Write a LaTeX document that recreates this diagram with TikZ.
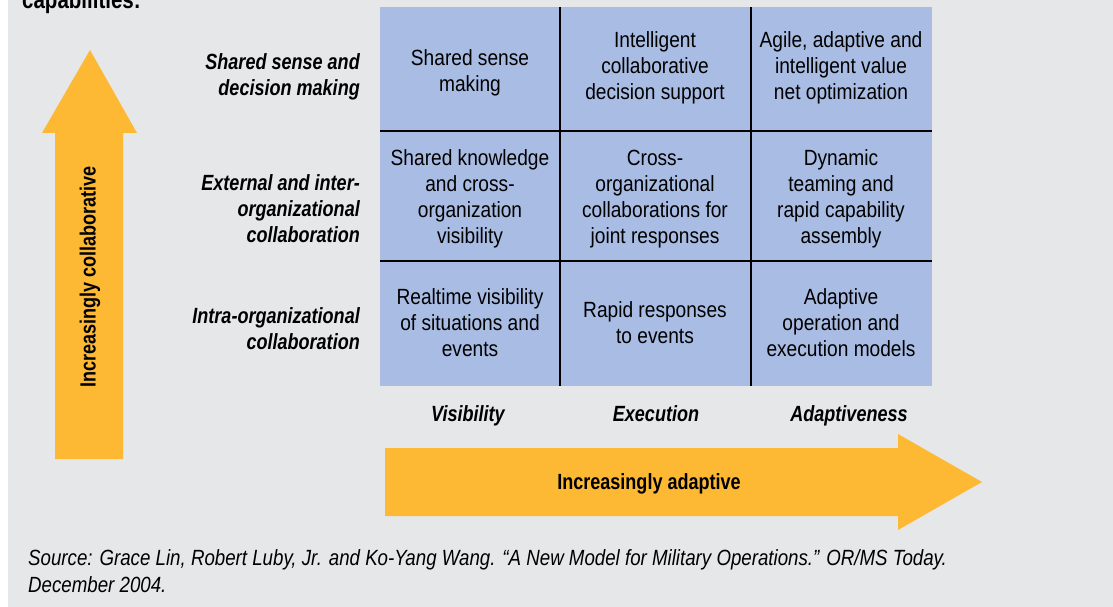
\documentclass[tikz,border=0pt]{standalone}
\usepackage{fontspec}
\setmainfont{Liberation Sans}[FakeStretch=0.82]
\newfontfamily\cellfont{Liberation Sans}[FakeStretch=0.87]
\newfontfamily\notefont{Liberation Sans}[FakeStretch=0.85]
\usetikzlibrary{positioning}
\definecolor{pagegray}{HTML}{E6E7E9}
\definecolor{cellblue}{HTML}{A9BCE3}
\definecolor{arrowyellow}{HTML}{FDB933}
\tikzset{
	celltext/.style = {align=center, inner sep=0pt, font=\fontsize{22}{26}\selectfont\cellfont},
	rowlabel/.style = {align=right, anchor=east, inner sep=0pt, font=\fontsize{22}{26}\selectfont\bfseries\itshape},
	collabel/.style = {anchor=base, inner sep=0pt, font=\fontsize{22}{26}\selectfont\bfseries\itshape},
	arrowtext/.style = {inner sep=0pt, font=\fontsize{22}{26}\selectfont\bfseries},
	gridline/.style = {draw=black, line width=1.3pt},
	bigarrow/.style = {fill=arrowyellow}
}
\begin{document}
\begin{tikzpicture}[x=1pt, y=-1pt]
\useasboundingbox (0,0) rectangle (1113,607);
\clip (0,0) rectangle (1113,607);
\fill[pagegray] (8,0) rectangle (1113,607);
\node[anchor=base west, inner sep=0pt, font=\fontsize{25}{30}\selectfont\bfseries] (heading) at (22,9) {capabilities:};

\fill[cellblue] (380,7) rectangle (932,386);
\draw[gridline] (560,7) -- (560,386);
\draw[gridline] (751,7) -- (751,386);
\draw[gridline] (380,131) -- (932,131);
\draw[gridline] (380,261) -- (932,261);

\node[celltext] (sense1) at (470,73) {Shared sense\\making};
\node[celltext] (sense2) at (655,68) {Intelligent\\collaborative\\decision support};
\node[celltext] (sense3) at (841,68) {Agile, adaptive and\\intelligent value\\net optimization};
\node[celltext] (inter1) at (470,199) {Shared knowledge\\and cross-\\organization\\visibility};
\node[celltext] (inter2) at (655,199) {Cross-\\organizational\\collaborations for\\joint responses};
\node[celltext] (inter3) at (841,199) {Dynamic\\teaming and\\rapid capability\\assembly};
\node[celltext] (intra1) at (470,323) {Realtime visibility\\of situations and\\events};
\node[celltext] (intra2) at (655,323) {Rapid responses\\to events};
\node[celltext] (intra3) at (841,323) {Adaptive\\operation and\\execution models};

\node[rowlabel] (senselabel) at (360,77) {Shared sense and\\decision making};
\node[rowlabel] (interlabel) at (360,209) {External and inter-\\organizational\\collaboration};
\node[rowlabel] (intralabel) at (360,329) {Intra-organizational\\collaboration};

\node[collabel] (vislabel) at (468,421) {Visibility};
\node[collabel] (execlabel) at (656,421) {Execution};
\node[collabel] (adaptlabel) at (849,421) {Adaptiveness};

\fill[bigarrow] (55,459) -- (55,133) -- (42,133) -- (90,50) -- (137,133) -- (123,133) -- (123,459) -- cycle;
\node[arrowtext, rotate=90] (collab) at (90,277) {Increasingly collaborative};
\fill[bigarrow] (385,448) -- (898,448) -- (898,434) -- (982,482) -- (898,530) -- (898,516) -- (385,516) -- cycle;
\node[arrowtext] (adaptive) at (649,484) {Increasingly adaptive};

\node[align=left, anchor=west, inner sep=0pt, font=\fontsize{22}{27}\selectfont\notefont\itshape] (source) at (28,571)
	{Source: Grace Lin, Robert Luby, Jr. and Ko-Yang Wang. “A New Model for Military Operations.” OR/MS Today.\\December 2004.};
\end{tikzpicture}
\end{document}
